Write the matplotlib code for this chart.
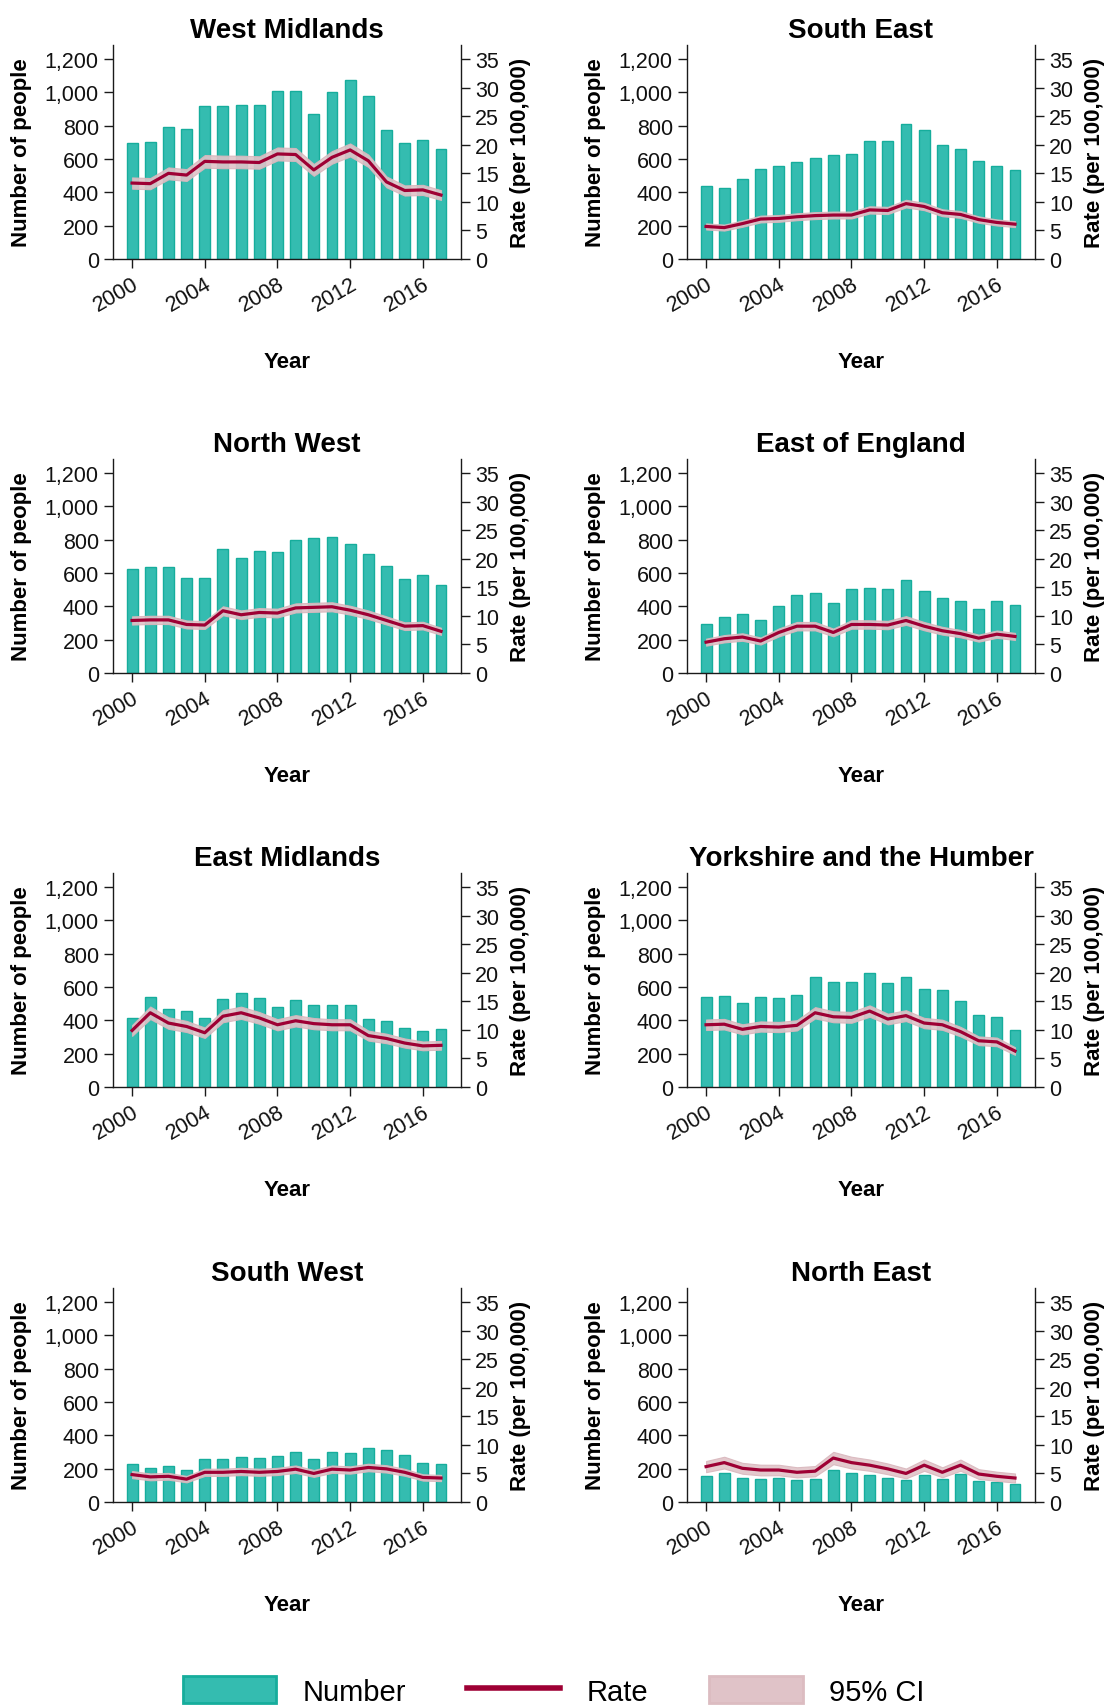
import numpy as np
import matplotlib
matplotlib.use("Agg")
import matplotlib.pyplot as plt
from matplotlib.patches import Patch
from matplotlib.lines import Line2D

plt.rcParams["font.family"] = ["Liberation Sans", "DejaVu Sans"]

years = list(range(2000, 2018))
year_ticks = [2000, 2004, 2008, 2012, 2016]
count_ticks = [0, 200, 400, 600, 800, 1000, 1200]
rate_ticks = [0, 5, 10, 15, 20, 25, 30, 35]

regions = ["West Midlands", "South East", "North West", "East of England",
           "East Midlands", "Yorkshire and the Humber", "South West", "North East"]

west_midlands_number = [696, 700, 792, 780, 916, 916, 924, 926, 1008, 1008,
                        868, 1000, 1074, 976, 772, 696, 712, 658]
west_midlands_rate = [13.3, 13.2, 15.0, 14.7, 17.1, 17.0, 17.0, 16.9, 18.4, 18.3,
                      15.6, 17.8, 19.1, 17.2, 13.5, 12.0, 12.1, 11.2]

south_east_number = [438, 426, 478, 538, 556, 580, 604, 624, 628, 708,
                     706, 810, 776, 682, 660, 588, 556, 534]
south_east_rate = [5.7, 5.5, 6.2, 7.0, 7.1, 7.4, 7.6, 7.7, 7.7, 8.6,
                   8.5, 9.7, 9.2, 8.1, 7.8, 6.9, 6.4, 6.1]

north_west_number = [624, 636, 636, 570, 570, 744, 690, 732, 728, 798,
                     810, 816, 774, 714, 642, 566, 588, 528]
north_west_rate = [9.2, 9.3, 9.3, 8.5, 8.4, 10.9, 10.2, 10.6, 10.5, 11.4,
                   11.5, 11.6, 11.0, 10.2, 9.2, 8.2, 8.3, 7.3]

east_of_england_number = [296, 338, 354, 318, 402, 468, 480, 420, 504, 510,
                          504, 558, 494, 450, 432, 384, 430, 408]
east_of_england_rate = [5.4, 6.0, 6.3, 5.6, 7.1, 8.2, 8.2, 7.1, 8.5, 8.5,
                        8.4, 9.2, 8.2, 7.4, 6.9, 6.1, 6.8, 6.4]

east_midlands_number = [415, 540, 468, 454, 415, 528, 564, 532, 480, 522,
                        492, 492, 492, 409, 397, 355, 337, 349]
east_midlands_rate = [9.9, 13.0, 11.2, 10.6, 9.5, 12.4, 13.0, 12.1, 10.9, 11.6,
                      11.1, 10.9, 10.9, 9.0, 8.5, 7.7, 7.2, 7.3]

yorkshire_number = [538, 546, 504, 540, 532, 554, 660, 630, 630, 684,
                    624, 660, 588, 580, 516, 435, 419, 343]
yorkshire_rate = [10.9, 11.0, 10.1, 10.6, 10.5, 10.8, 13.0, 12.3, 12.2, 13.3,
                  11.9, 12.5, 11.2, 10.9, 9.7, 8.1, 7.9, 6.3]

south_west_number = [227, 207, 219, 195, 261, 261, 273, 267, 279, 301,
                     261, 303, 297, 323, 313, 283, 235, 229]
south_west_rate = [4.8, 4.4, 4.5, 4.0, 5.2, 5.2, 5.35, 5.2, 5.35, 5.75,
                   5.0, 5.75, 5.6, 6.05, 5.8, 5.2, 4.3, 4.2]

north_east_number = [155, 173, 147, 138, 142, 132, 138, 195, 173, 165,
                     147, 130, 165, 136, 167, 126, 120, 108]
north_east_rate = [6.2, 6.9, 5.9, 5.6, 5.6, 5.2, 5.4, 7.7, 6.9, 6.45,
                   5.8, 5.0, 6.45, 5.2, 6.45, 4.9, 4.5, 4.2]

numbers = [west_midlands_number, south_east_number, north_west_number,
           east_of_england_number, east_midlands_number, yorkshire_number,
           south_west_number, north_east_number]
rates = [west_midlands_rate, south_east_rate, north_west_rate,
         east_of_england_rate, east_midlands_rate, yorkshire_rate,
         south_west_rate, north_east_rate]

BAR_FACE = "#34bcb0"
BAR_EDGE = "#16ad9c"
LINE_COL = "#9e0034"
CI_COL = "#e0c3c8"
SPINE_COL = "#1a1a1a"

W, H = 1107, 1706
fig = plt.figure(figsize=(W / 100, H / 100), dpi=100)

col_left = [113, 687]
ax_w = 348
row_top = [46, 460, 874, 1289]
ax_h = 214

for i, region in enumerate(regions):
    r, c = divmod(i, 2)
    x0 = col_left[c] / W
    y0 = 1 - (row_top[r] + ax_h) / H
    ax = fig.add_axes([x0, y0, ax_w / W, ax_h / H])
    ax2 = ax.twinx()

    n = np.array(numbers[i], dtype=float)
    rate = np.array(rates[i], dtype=float)
    # Poisson-based 95% confidence interval for the rate
    half = 1.96 * rate / np.sqrt(n)

    ax.bar(years, n, width=0.6, color=BAR_FACE, edgecolor=BAR_EDGE,
           linewidth=1.0, zorder=2)
    ax2.fill_between(years, rate - half, rate + half, color=CI_COL,
                     alpha=0.9, linewidth=0.8, edgecolor="#d9b7bd", zorder=2)
    ax2.plot(years, rate, color=LINE_COL, linewidth=2.3, zorder=3)

    ax.set_xlim(1998.95, 2018.1)
    ax.set_ylim(0, 1285)
    ax2.set_ylim(0, 1285 * 35 / 1200)
    ax.set_xticks(year_ticks)
    ax.set_yticks(count_ticks)
    ax.set_yticklabels([f"{v:,}" for v in count_ticks])
    ax2.set_yticks(rate_ticks)

    for a in (ax, ax2):
        a.spines["top"].set_visible(False)
        for s in ("left", "right", "bottom"):
            a.spines[s].set_color(SPINE_COL)
            a.spines[s].set_linewidth(1.0)
        a.tick_params(axis="both", direction="out", length=6.7, width=1.0,
                      color=SPINE_COL, labelsize=15.5, pad=3.5, labelcolor="#111111")
    ax.spines["right"].set_visible(False)
    ax2.spines["left"].set_visible(False)
    ax2.spines["bottom"].set_visible(False)

    for lbl in ax.get_xticklabels():
        lbl.set_rotation(30)
        lbl.set_ha("right")
        lbl.set_va("top")
        lbl.set_rotation_mode("anchor")

    ax.set_title(region, fontsize=20, fontweight="bold", pad=6)
    ax.set_ylabel("Number of people", fontsize=16, fontweight="bold", va="center")
    ax.yaxis.set_label_coords(-0.262, 0.5)
    ax2.set_ylabel("Rate (per 100,000)", fontsize=16, fontweight="bold",
                   va="center", rotation=90)
    ax2.yaxis.set_label_coords(1.17, 0.5)
    ax.set_xlabel("Year", fontsize=16, fontweight="bold", va="center")
    ax.xaxis.set_label_coords(0.5, -0.477)

handles = [
    Patch(facecolor=BAR_FACE, edgecolor=BAR_EDGE, linewidth=2),
    Line2D([0], [0], color=LINE_COL, linewidth=4),
    Patch(facecolor=CI_COL, edgecolor="#dcbcc1", linewidth=2),
]
fig.legend(handles, ["Number", "Rate", "95% CI"], loc="center",
           bbox_to_anchor=(0.5, 1 - 1692 / H), ncol=3, frameon=False,
           fontsize=21, handlelength=3.2, handleheight=1.0,
           handletextpad=0.9, columnspacing=2.1)

fig.savefig("out.png", dpi=100)
